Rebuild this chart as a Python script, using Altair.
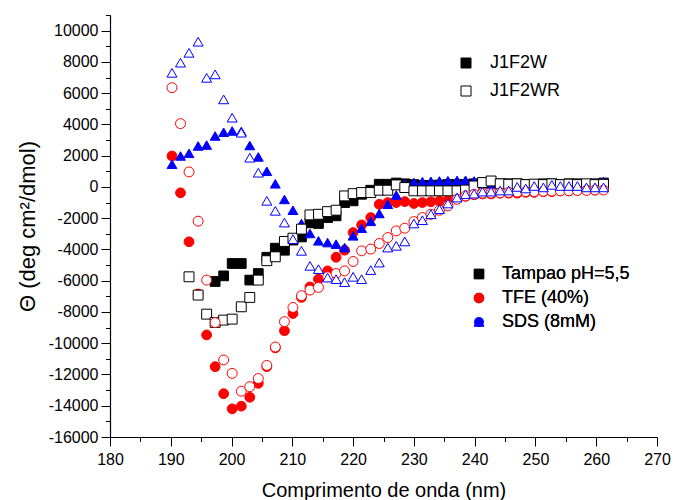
import altair as alt
import pandas as pd

# wavelength grid (nm)
wavelength = [190.2, 191.6, 193.0, 194.5, 195.9, 197.3, 198.7, 200.1, 201.6, 203.0,
              204.4, 205.8, 207.2, 208.7, 210.1, 211.5, 212.9, 214.3, 215.8, 217.2,
              218.6, 220.0, 221.4, 222.9, 224.3, 225.7, 227.1, 228.5, 230.0, 231.4,
              232.8, 234.2, 235.6, 237.1, 238.5, 239.9, 241.3, 242.7, 244.2, 245.6,
              247.0, 248.4, 249.8, 251.3, 252.7, 254.1, 255.5, 256.9, 258.4, 259.8,
              261.2]

# J1F2W (filled markers)
tampao_j1f2w = [None, None, None, None, None, -6050, -5690, -4900, -4900, -5960,
                -5540, -4500, -3920, -4050, -3400, -3200, -2300, -2340, -1960, -1850,
                -1000, -890, -470, -210, 170, 170, 250, 200, 150, 100,
                100, 120, 150, 150, 150, 200, 250, 250, 200, 200,
                200, 150, 150, 200, 200, 150, 200, 200, 150, 200,
                250]
tfe_j1f2w = [1980, -380, -3510, -6850, -9470, -11500, -13230, -14200, -14030, -13460,
             -12570, -11500, -10300, -9200, -8100, -7070, -6400, -5900, -5370, -4500,
             -4050, -2920, -2430, -1960, -1110, -1000, -1000, -940, -1060, -1000,
             -950, -900, -850, -750, -600, -500, -450, -450, -400, -400,
             -400, -350, -350, -300, -300, -250, -250, -200, -200, -200,
             -150]
sds_j1f2w = [1450, 1980, 2150, 2620, 2680, 3260, 3500, 3580, 3550, 2650,
             1920, 1000, 200, -800, -1490, -2340, -2980, -3450, -3560, -3660,
             -3880, -3130, -2640, -2200, -1700, -1110, -520, 170, 280, 340,
             360, 380, 400, 420, 430, 380, 250, 200, 150, 200,
             250, 200, 150, 200, 250, 200, 150, 200, 200, 250,
             350]

# J1F2WR (open markers)
tampao_j1f2wr = [None, None, -5750, -6920, -8140, -8670, -8520, -8460, -7670, -7070,
                 -5960, -4720, -4470, -3490, -3280, -2700, -1790, -1750, -1580, -1490,
                 -575, -430, -360, -360, -210, -210, 130, -40, -250, -250,
                 -250, -250, -250, -250, -200, 60, 280, 380, 200, 170,
                 200, 150, 180, 150, 200, 150, 180, 150, 200, 150,
                 170]
tfe_j1f2wr = [6350, 4050, 960, -2190, -5960, -8680, -11070, -11930, -13070, -12780,
              -12260, -11420, -10240, -8620, -7710, -6960, -6600, -6430, -5750, -5540,
              -5370, -4770, -4090, -3980, -3620, -3240, -2810, -2640, -2220, -1960,
              -1750, -1490, -1210, -790, -575, -470, -400, -400, -380, -350,
              -330, -300, -300, -280, -270, -250, -250, -230, -220, -200,
              -200]
sds_j1f2wr = [7300, 7950, 8580, 9290, 6980, 7200, 5600, 4430, 3470, 1870,
              910, -890, -1530, -2280, -3340, -4090, -5050, -5260, -5800, -5900,
              -6090, -5750, -5900, -5320, -4840, -3880, -3770, -3490, -2340, -2130,
              -1750, -1430, -1060, -680, -470, -430, -300, -300, -230, -230,
              0, -100, 60, -30, 130, 60, 60, 60, -30, -30,
              -30]

# series keys: filled (J1F2W) first, open (J1F2WR) drawn on top
series_keys = ["Tampao_f", "TFE_f", "SDS_f", "Tampao_o", "TFE_o", "SDS_o"]
series_values = [tampao_j1f2w, tfe_j1f2w, sds_j1f2w, tampao_j1f2wr, tfe_j1f2wr, sds_j1f2wr]
series_fill = ["#000000", "#ff0000", "#0000ff", "#ffffff", "#ffffff", "#ffffff"]
series_stroke = ["#000000", "#ff0000", "#0000ff", "#000000", "#ff0000", "#0000ff"]
series_shape = ["square", "circle", "triangle-up", "square", "circle", "triangle-up"]
series_size = [95, 100, 165, 95, 100, 165]
condition_labels = ["Tampao pH=5,5", "TFE (40%)", "SDS (8mM)"]

peptides = ["J1F2W", "J1F2WR"]
peptide_fill = ["#000000", "#ffffff"]

rows = []
for key, vals in zip(series_keys, series_values):
    for xv, yv in zip(wavelength, vals):
        if yv is None:
            continue
        rows.append({"x": xv, "y": yv, "serie": key})
df = pd.DataFrame(rows)
df_pep = pd.DataFrame({"peptide": peptides})

FONT = "Liberation Sans"
x_major = [180, 190, 200, 210, 220, 230, 240, 250, 260, 270]
x_minor = [185, 195, 205, 215, 225, 235, 245, 255, 265]
y_major = [-16000, -14000, -12000, -10000, -8000, -6000, -4000, -2000, 0,
           2000, 4000, 6000, 8000, 10000]
y_minor = [-15000, -13000, -11000, -9000, -7000, -5000, -3000, -1000,
           1000, 3000, 5000, 7000, 9000, 11000]

xscale = alt.Scale(domain=[180, 270], nice=False, zero=False)
yscale = alt.Scale(domain=[-16000, 11000], nice=False, zero=False)

minor = alt.Chart(df).mark_point(opacity=0).encode(
    x=alt.X("x:Q", scale=xscale, axis=alt.Axis(
        orient="bottom", values=x_minor, tickSize=4.5, labels=False, domain=False,
        title=None, grid=False, tickColor="black", tickWidth=1)),
    y=alt.Y("y:Q", scale=yscale, axis=alt.Axis(
        orient="left", values=y_minor, tickSize=4.5, labels=False, domain=False,
        title=None, grid=False, tickColor="black", tickWidth=1)),
)

label_expr = ("datum.value == 'Tampao_f' ? '%s' : datum.value == 'TFE_f' ? '%s' : '%s'"
              % tuple(condition_labels))
leg_cond = alt.Legend(
    orient="none", legendX=360, legendY=250, title=None, padding=0,
    values=series_keys[:3], labelExpr=label_expr, symbolStrokeWidth=1,
    labelFont=FONT, labelFontSize=18, labelColor="black", labelOffset=14,
    rowPadding=6,
)
leg_pep = alt.Legend(
    orient="none", legendX=347, legendY=39, title=None, padding=0,
    symbolType="square", symbolSize=100, symbolStrokeColor="black",
    symbolStrokeWidth=1, symbolOpacity=1, labelFont=FONT, labelFontSize=18,
    labelColor="black", labelOffset=15, rowPadding=10,
)

main = alt.Chart(df).mark_point(filled=True, opacity=1, strokeWidth=1).encode(
    x=alt.X("x:Q", scale=xscale, axis=alt.Axis(
        orient="bottom", values=x_major, tickSize=9, labelExpr="toString(datum.value)",
        labelFont=FONT, labelFontSize=16, labelColor="black", labelPadding=5,
        labelFlush=False, labelOverlap=False, grid=False, domainColor="black",
        domainWidth=1.2, tickColor="black", tickWidth=1,
        title="Comprimento de onda (nm)", titleFont=FONT, titleFontSize=20,
        titleFontWeight="normal", titleColor="black", titlePadding=13)),
    y=alt.Y("y:Q", scale=yscale, axis=alt.Axis(
        orient="left", values=y_major, tickSize=9, labelExpr="toString(datum.value)",
        labelFont=FONT, labelFontSize=16, labelColor="black", labelPadding=3,
        labelFlush=False, labelOverlap=False, grid=False, domainColor="black",
        domainWidth=1.2, tickColor="black", tickWidth=1,
        title="Θ (deg cm²/dmol)", titleFont=FONT, titleFontSize=22,
        titleFontWeight="normal", titleColor="black", titlePadding=9)),
    fill=alt.Fill("serie:N", scale=alt.Scale(domain=series_keys, range=series_fill),
                  legend=leg_cond),
    stroke=alt.Stroke("serie:N", scale=alt.Scale(domain=series_keys, range=series_stroke),
                      legend=leg_cond),
    shape=alt.Shape("serie:N", scale=alt.Scale(domain=series_keys, range=series_shape),
                    legend=leg_cond),
    size=alt.Size("serie:N", scale=alt.Scale(domain=series_keys, range=series_size),
                  legend=leg_cond),
)

# legend for the two peptides (filled / open squares)
pep = alt.Chart(df_pep).mark_point(filled=True, shape="square", size=0, opacity=1,
                                    stroke="black").encode(
    fill=alt.Fill("peptide:N", scale=alt.Scale(domain=peptides, range=peptide_fill),
                  legend=leg_pep),
)

chart = alt.layer(minor, main, pep).resolve_scale(
    fill="independent"
).resolve_axis(
    x="independent", y="independent"
).properties(
    width=547, height=422, autosize="none",
    padding={"left": 110, "top": 15, "right": 25, "bottom": 63},
    background="white",
).configure_view(stroke=None)

chart.save("out.html", embed_options={"renderer": "svg", "actions": False})
